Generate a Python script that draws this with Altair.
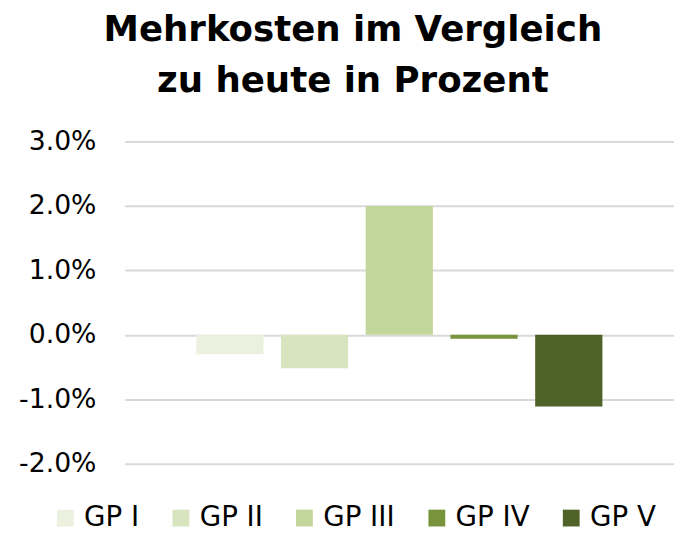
import altair as alt
import pandas as pd

categories = ["GP I", "GP II", "GP III", "GP IV", "GP V"]
values = [-0.30, -0.52, 2.00, -0.06, -1.11]
colors = ["#EBF1DE", "#D7E4BD", "#C3D69B", "#77933C", "#4F6228"]
y_ticks = [-2, -1, 0, 1, 2, 3]
title_lines = ["Mehrkosten im Vergleich", "zu heute in Prozent"]

df = pd.DataFrame({"cat": categories, "val": values})

chart = alt.Chart(df).mark_bar().encode(
    x=alt.X("cat:N", sort=categories, axis=None,
            scale=alt.Scale(paddingInner=0.207, paddingOuter=0.845)),
    y=alt.Y("val:Q", scale=alt.Scale(domain=[-2, 3], nice=False, zero=False),
            axis=alt.Axis(values=y_ticks, title=None, domain=False, ticks=False,
                          labelPadding=29, labelFont="DejaVu Sans", labelFontSize=27,
                          labelColor="#000000", gridColor="#d9d9d9", gridWidth=2,
                          labelExpr="(datum.value < 0 ? '-' : '') + format(abs(datum.value), '.1f') + '%'")),
    color=alt.Color("cat:N", sort=categories,
                    scale=alt.Scale(domain=categories, range=colors),
                    legend=alt.Legend(title=None, orient="none", legendX=-74, legendY=367,
                                      direction="horizontal", columns=5,
                                      symbolType="square", symbolSize=289, symbolStrokeWidth=0,
                                      labelFont="DejaVu Sans", labelFontSize=28,
                                      labelColor="#000000", labelOffset=5, columnPadding=28,
                                      labelLimit=200)),
).properties(
    width=556,
    height=326,
    title=alt.TitleParams(text=title_lines, font="DejaVu Sans", fontSize=36,
                          fontWeight="bold", color="#000000", lineHeight=52,
                          anchor="middle", dx=-47, offset=28),
    autosize=alt.AutoSizeParams(type="none"),
    padding={"left": 118, "top": 132, "right": 0, "bottom": 74},
).configure_view(stroke=None)

chart.save("out.html", embed_options={"renderer": "svg", "actions": False})
